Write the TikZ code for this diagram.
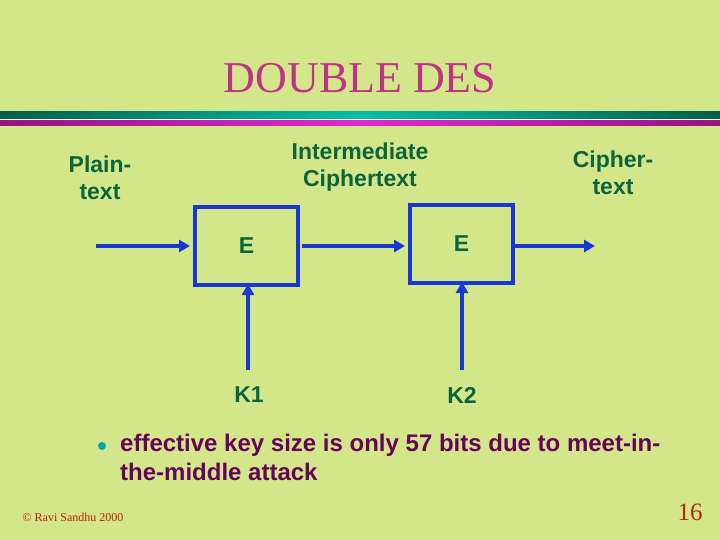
\documentclass[tikz,border=0pt]{standalone}
\usepackage{fontspec}
\setmainfont{Liberation Sans}
\newfontfamily\timesfont{Liberation Serif}
\usetikzlibrary{arrows.meta}
\definecolor{bgc}{RGB}{212,230,138}
\definecolor{titlec}{RGB}{190,50,135}
\definecolor{labc}{RGB}{10,100,60}
\definecolor{bluec}{RGB}{25,55,215}
\definecolor{bultxt}{RGB}{100,5,90}
\definecolor{bulc}{RGB}{0,170,170}
\definecolor{footc}{RGB}{180,35,15}
\definecolor{tealdark}{RGB}{0,95,75}
\definecolor{teallight}{RGB}{0,190,170}
\definecolor{magdark}{RGB}{150,20,130}
\definecolor{maglight}{RGB}{225,40,205}
\tikzset{
  lab/.style={font=\bfseries\fontsize{23bp}{26.5bp}\selectfont, text=labc, align=center, inner sep=0pt},
  ebox/.style={draw=bluec, line width=4bp, minimum width=103bp, minimum height=78bp, inner sep=0pt,
    font=\bfseries\fontsize{23bp}{26bp}\selectfont, text=labc},
  flow/.style={draw=bluec, line width=4bp, -{Triangle[length=11bp,width=12bp]}},
  bultext/.style={font=\bfseries\fontsize{24bp}{29bp}\selectfont, text=bultxt, anchor=base west, inner sep=0pt}
}
\begin{document}
\begin{tikzpicture}[x=1bp,y=-1bp]
\fill[bgc] (0,0) rectangle (720,540);
\useasboundingbox (0,0) rectangle (720,540);
% header bars
\shade[left color=tealdark, right color=tealdark, middle color=teallight] (0,112) rectangle (720,118.7);
\fill[white!70!bgc] (0,118.7) rectangle (720,121);
\shade[left color=magdark, right color=magdark, middle color=maglight] (0,121) rectangle (720,125.3);
% title
\node[font=\timesfont\fontsize{44bp}{48bp}\selectfont, text=titlec, inner sep=0pt] (title) at (360,78) {DOUBLE DES};
% labels
\node[lab] (plain) at (100,178) {Plain-\\text};
\node[lab] (inter) at (360,167) {Intermediate\\Ciphertext};
\node[lab] (cipher) at (613,173) {Cipher-\\text};
% boxes
\node[ebox] (box1) at (246.5,246) {E};
\node[ebox] (box2) at (461.5,244) {E};
% key labels
\node[lab] (k1) at (249,395) {K1};
\node[lab] (k2) at (462,395) {K2};
% connectors
\coordinate (pin) at (96,246);
\coordinate (cout) at (595,246);
\coordinate (k1s) at (248,370);
\coordinate (k2s) at (462,370);
\draw[flow, shorten >=3bp] (pin) -- (box1.west |- pin);
\draw[flow, shorten <=2bp, shorten >=3bp] (box1.east |- pin) -- (box2.west |- pin);
\draw[flow] (box2.east |- pin) -- (cout);
\draw[flow, shorten >=-3bp] (k1s) -- (k1s |- box1.south);
\draw[flow, shorten >=-3bp] (k2s) -- (k2s |- box2.south);
% bullet
\fill[bulc] (102,446) circle (4bp);
\node[bultext] (bul1) at (120,451) {effective key size is only 57 bits due to meet-in-};
\node[bultext] (bul2) at (120,480) {the-middle attack};
% footer
\node[font=\timesfont\fontsize{12bp}{14bp}\selectfont, text=footc, inner sep=0pt] (foot) at (73,517) {© Ravi Sandhu 2000};
\node[font=\timesfont\fontsize{25bp}{28bp}\selectfont, text=footc, inner sep=0pt] (page) at (690,512) {16};
\end{tikzpicture}
\end{document}
